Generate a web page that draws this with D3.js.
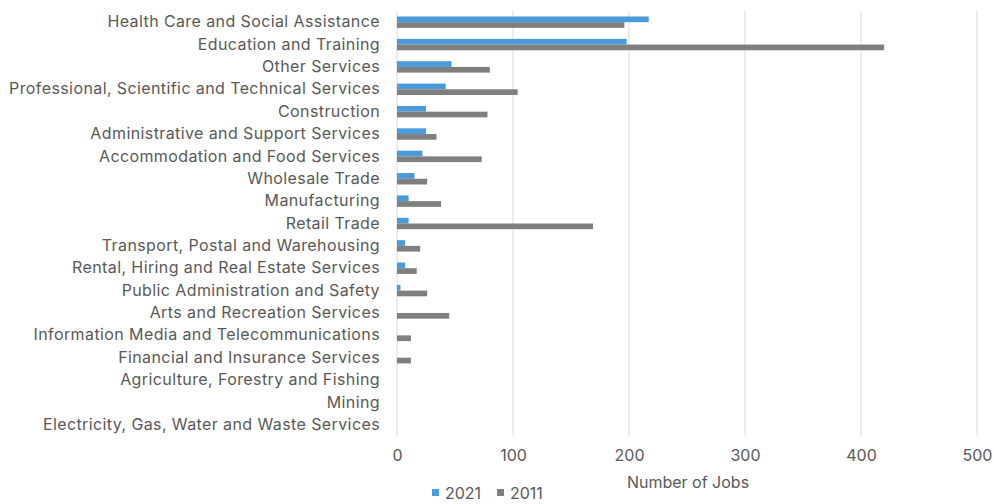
<!DOCTYPE html>
<html lang="en">
  <head>
    <meta charset="UTF-8" />
    <title>Jobs by industry</title>
    <script src="https://cdn.jsdelivr.net/npm/d3@7"></script>
    <style>
      body { margin: 0; background: #fff; }
      text { font-family: Inter, Roboto, sans-serif; fill: #595959; }
    </style>
  </head>
  <body>
    <div class="chart"></div>
    <script>
      "use strict";

      const industries = [
        "Health Care and Social Assistance",
        "Education and Training",
        "Other Services",
        "Professional, Scientific and Technical Services",
        "Construction",
        "Administrative and Support Services",
        "Accommodation and Food Services",
        "Wholesale Trade",
        "Manufacturing",
        "Retail Trade",
        "Transport, Postal and Warehousing",
        "Rental, Hiring and Real Estate Services",
        "Public Administration and Safety",
        "Arts and Recreation Services",
        "Information Media and Telecommunications",
        "Financial and Insurance Services",
        "Agriculture, Forestry and Fishing",
        "Mining",
        "Electricity, Gas, Water and Waste Services",
      ];
      const jobs2021 = [217, 198, 47, 42, 25, 25, 22, 15, 10, 10, 7, 7, 3, 0, 0, 0, 0, 0, 0];
      const jobs2011 = [196, 420, 80, 104, 78, 34, 73, 26, 38, 169, 20, 17, 26, 45, 12, 12, 0, 0, 0];
      const seriesNames = ["2021", "2011"];
      const seriesColors = ["#4a9bdc", "#7f7f7f"];
      const xTicks = [0, 100, 200, 300, 400, 500];

      const width = 995;
      const height = 504;
      const plotLeft = 397;
      const plotRight = 977;
      const plotTop = 11;
      const plotBottom = 436;

      const svg = d3
        .select(".chart")
        .append("svg")
        .attr("width", width)
        .attr("height", height);

      const x = d3.scaleLinear().domain([0, 500]).range([plotLeft, plotRight]);
      const y = d3.scaleBand().domain(industries).range([plotTop, plotBottom]).paddingInner(0.49).paddingOuter(0.245);
      const sub = d3.scaleBand().domain(seriesNames).range([0, y.bandwidth()]);

      // gridlines
      svg
        .append("g")
        .selectAll("line")
        .data(xTicks)
        .enter()
        .append("line")
        .attr("x1", (d) => x(d))
        .attr("x2", (d) => x(d))
        .attr("y1", plotTop)
        .attr("y2", plotBottom)
        .attr("stroke", "#d9d9d9")
        .attr("stroke-width", 1);

      // x tick labels
      const xAxis = d3.axisBottom(x).tickValues(xTicks).tickSize(0).tickPadding(0);
      const gx = svg
        .append("g")
        .attr("transform", `translate(0, ${plotBottom + 14})`)
        .call(xAxis);
      gx.select(".domain").remove();
      gx.selectAll("text").attr("font-size", "16px").attr("dy", "0.71em");
      gx.attr("font-family", null);

      // category labels
      const yAxis = d3.axisLeft(y).tickSize(0).tickPadding(0);
      const gy = svg
        .append("g")
        .attr("transform", `translate(${plotLeft - 17}, 0)`)
        .call(yAxis);
      gy.select(".domain").remove();
      gy.selectAll("text").attr("font-size", "16px").attr("letter-spacing", "0.4px");
      gy.attr("font-family", null);

      const series = [jobs2021, jobs2011];
      series.forEach((vals, si) => {
        svg
          .append("g")
          .selectAll("rect")
          .data(vals)
          .enter()
          .append("rect")
          .attr("x", x(0))
          .attr("y", (d, i) => y(industries[i]) + sub(seriesNames[si]))
          .attr("width", (d) => x(d) - x(0))
          .attr("height", sub.bandwidth())
          .attr("fill", seriesColors[si]);
      });

      // axis title
      svg
        .append("text")
        .attr("x", 688)
        .attr("y", 488)
        .attr("text-anchor", "middle")
        .attr("font-size", "16px")
        .text("Number of Jobs");

      // legend
      const legend = svg.append("g").attr("transform", "translate(432, 499)");
      seriesNames.forEach((name, i) => {
        const g = legend.append("g").attr("transform", `translate(${i * 65}, 0)`);
        g.append("rect").attr("x", 0).attr("y", -10).attr("width", 7).attr("height", 7).attr("fill", seriesColors[i]);
        g.append("text").attr("x", 13).attr("y", 0).attr("font-size", "16px").text(name);
      });
    </script>
  </body>
</html>
